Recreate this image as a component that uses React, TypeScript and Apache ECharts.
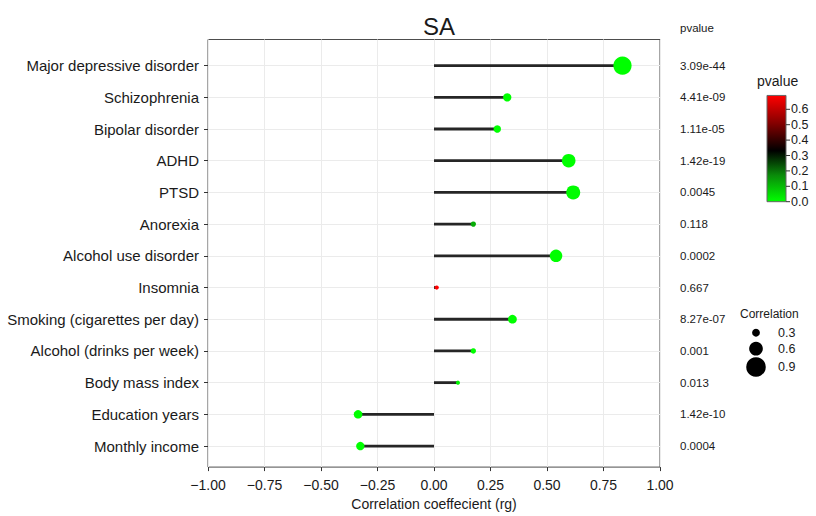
import React, { useEffect, useRef } from "react";
import * as echarts from "echarts";

// rows listed bottom to top
const categories = [
  "Monthly income",
  "Education years",
  "Body mass index",
  "Alcohol (drinks per week)",
  "Smoking (cigarettes per day)",
  "Insomnia",
  "Alcohol use disorder",
  "Anorexia",
  "PTSD",
  "ADHD",
  "Bipolar disorder",
  "Schizophrenia",
  "Major depressive disorder",
];
const rgValues = [-0.326, -0.336, 0.106, 0.174, 0.347, 0.012, 0.54, 0.174, 0.616, 0.596, 0.28, 0.324, 0.834];
const pvalueLabels = [
  "0.0004",
  "1.42e-10",
  "0.013",
  "0.001",
  "8.27e-07",
  "0.667",
  "0.0002",
  "0.118",
  "0.0045",
  "1.42e-19",
  "1.11e-05",
  "4.41e-09",
  "3.09e-44",
];
const pvalues = pvalueLabels.map((s) => parseFloat(s));
const colorbarTicks = [0, 0.1, 0.2, 0.3, 0.4, 0.5, 0.6];
const sizeLegendValues = [0.3, 0.6, 0.9];

const FONT = "'Liberation Sans', Arial, Helvetica, sans-serif";
const TEXT = "#1a1a1a";
const rowIdx = categories.map((_, i) => i);
const dotSize = (v: number) => 2 + 19.5 * Math.abs(v);
const pMax = 0.667;

export default function App() {
  const ref = useRef<HTMLDivElement>(null);
  useEffect(() => {
    if (!ref.current) return;
    const chart = echarts.init(ref.current, null, { renderer: "svg" });

    // color bar geometry (legend)
    const cbX = 767;
    const cbW = 19;
    const cbZeroY = 201.7;
    const cbPx = 154;
    const cbTop = cbZeroY - 0.69 * cbPx;

    const graphics: any[] = [
      {
        type: "text",
        left: 757,
        top: 74,
        style: { text: "pvalue", font: `14px ${FONT}`, fill: TEXT },
      },
      {
        type: "rect",
        shape: { x: cbX, y: cbTop, width: cbW, height: cbZeroY - cbTop },
        style: {
          fill: new echarts.graphic.LinearGradient(0, 0, 0, 1, [
            { offset: 0, color: "#ff0000" },
            { offset: 0.25, color: "#8a0000" },
            { offset: 0.52, color: "#000000" },
            { offset: 0.75, color: "#0a8a0a" },
            { offset: 1, color: "#00ff00" },
          ]),
          stroke: "#666",
          lineWidth: 1,
        },
      },
      ...colorbarTicks.map((t) => ({
        type: "line",
        shape: { x1: cbX + cbW, y1: cbZeroY - t * cbPx, x2: cbX + cbW + 4, y2: cbZeroY - t * cbPx },
        style: { stroke: "#333", lineWidth: 1 },
      })),
      ...colorbarTicks.map((t) => ({
        type: "text",
        x: cbX + cbW + 5,
        y: cbZeroY - t * cbPx,
        style: {
          text: t.toFixed(1),
          font: `12.5px ${FONT}`,
          fill: TEXT,
          verticalAlign: "middle",
          align: "left",
        },
      })),
      {
        type: "text",
        x: 740,
        y: 314,
        style: { text: "Correlation", font: `12px ${FONT}`, fill: TEXT, verticalAlign: "middle" },
      },
      ...sizeLegendValues.map((v, i) => ({
        type: "circle",
        shape: { cx: 756, cy: [332.7, 348.7, 367][i], r: dotSize(v) / 2 },
        style: { fill: "#000" },
      })),
      ...sizeLegendValues.map((v, i) => ({
        type: "text",
        x: 778,
        y: [332.7, 348.7, 367][i],
        style: { text: v.toFixed(1), font: `12.5px ${FONT}`, fill: TEXT, verticalAlign: "middle" },
      })),
    ];

    chart.setOption({
      animation: false,
      backgroundColor: "#ffffff",
      textStyle: { fontFamily: FONT },
      title: {
        text: "SA",
        left: 434,
        top: 9,
        textAlign: "center",
        textStyle: { fontSize: 24, fontWeight: "normal", color: TEXT, fontFamily: FONT },
      },
      grid: {
        left: 208,
        right: 156,
        top: 39.5,
        bottom: 44,
        show: true,
        borderColor: "#4d4d4d",
        borderWidth: 1,
        backgroundColor: "transparent",
      },
      xAxis: {
        type: "value",
        min: -1,
        max: 1,
        interval: 0.25,
        name: "Correlation coeffecient (rg)",
        nameLocation: "middle",
        nameGap: 26,
        nameTextStyle: { fontSize: 14, color: TEXT, fontFamily: FONT },
        axisLine: { show: false, onZero: false },
        axisTick: { show: true, length: 4, lineStyle: { color: "#333" } },
        axisLabel: {
          fontSize: 14,
          color: TEXT,
          margin: 11,
          fontFamily: FONT,
          formatter: (v: number) => (v < 0 ? "\u2212" : "") + Math.abs(v).toFixed(2),
        },
        splitLine: { show: true, lineStyle: { color: "#ebebeb", width: 1 } },
      },
      yAxis: [
        {
          type: "value",
          min: -0.664,
          max: 12.823,
          axisLine: { show: false, onZero: false },
          axisTick: { show: true, length: 4, customValues: rowIdx, lineStyle: { color: "#333" } },
          axisLabel: {
            customValues: rowIdx,
            fontSize: 15,
            color: TEXT,
            margin: 9,
            fontFamily: FONT,
            formatter: (v: number) => categories[Math.round(v)] ?? "",
          },
          splitLine: { show: true, lineStyle: { color: "#ebebeb", width: 1 } },
        },
        {
          type: "value",
          position: "right",
          min: -0.664,
          max: 12.823,
          name: "pvalue",
          nameLocation: "end",
          nameGap: 6,
          nameTextStyle: { fontSize: 11.5, color: TEXT, align: "left", padding: [0, 0, 0, 20], fontFamily: FONT },
          axisLine: { show: false, onZero: false },
          axisTick: { show: false, customValues: rowIdx },
          axisLabel: {
            customValues: rowIdx,
            fontSize: 11.5,
            color: TEXT,
            margin: 20,
            fontFamily: FONT,
            formatter: (v: number) => pvalueLabels[Math.round(v)] ?? "",
          },
          splitLine: { show: false },
        },
      ],
      visualMap: {
        show: false,
        type: "continuous",
        seriesIndex: 1,
        dimension: 2,
        min: 0,
        max: pMax,
        inRange: { color: ["#00ff00", "#0a8a0a", "#000000", "#8a0000", "#ff0000"] },
      },
      series: [
        {
          type: "custom",
          data: rgValues.map((v, i) => [v, i]),
          encode: { x: 0, y: 1 },
          renderItem: (params: any, api: any) => {
            const v = api.value(0);
            const y = api.value(1);
            const p0 = api.coord([0, y]);
            const p1 = api.coord([v, y]);
            return {
              type: "line",
              shape: { x1: p0[0], y1: p0[1], x2: p1[0], y2: p1[1] },
              style: { stroke: "#262626", lineWidth: 2.8 },
            };
          },
          z: 2,
        },
        {
          type: "scatter",
          data: rgValues.map((v, i) => [v, i, pvalues[i]]),
          symbol: "circle",
          symbolSize: (d: number[]) => dotSize(d[0]) + (d[2] > 0.5 ? 2 : 0),
          itemStyle: { opacity: 1 },
          z: 3,
        },
      ],
      graphic: graphics,
    });
    return () => chart.dispose();
  }, []);
  return (
    <div
      ref={ref}
      style={{ position: "fixed", left: 0, top: 0, width: 816, height: 516, background: "#fff" }}
    />
  );
}
